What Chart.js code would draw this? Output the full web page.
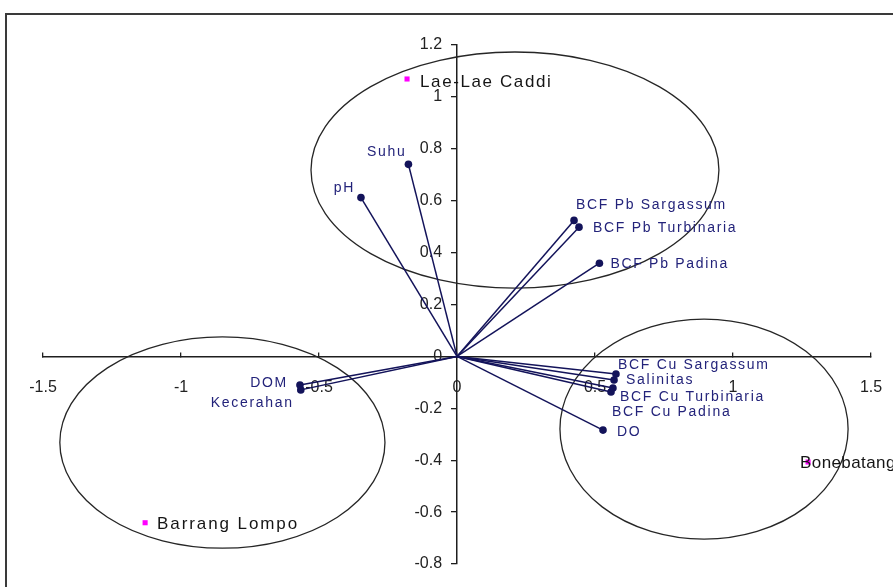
<!DOCTYPE html>
<html>
<head>
<meta charset="utf-8">
<script src="https://cdn.jsdelivr.net/npm/chart.js@4/dist/chart.umd.min.js"></script>
<style>
  html, body { margin: 0; padding: 0; background: #ffffff; }
  canvas { display: block; }
</style>
</head>
<body>
<canvas id="biplot" width="893" height="587"></canvas>
<script>
// Variable loadings (vectors from the origin)
const variableNames = ['Suhu', 'pH', 'BCF Pb Sargassum', 'BCF Pb Turbinaria', 'BCF Pb Padina',
  'BCF Cu Sargassum', 'Salinitas', 'BCF Cu Turbinaria', 'BCF Cu Padina', 'DO', 'DOM', 'Kecerahan'];
const variableX = [-0.176, -0.348, 0.424, 0.442, 0.516, 0.576, 0.569, 0.565, 0.558, 0.529, -0.569, -0.566];
const variableY = [0.740, 0.612, 0.524, 0.498, 0.359, -0.068, -0.091, -0.122, -0.137, -0.284, -0.110, -0.129];

// Station scores
const stationNames = ['Lae-Lae Caddi', 'Barrang Lompo', 'Bonebatang'];
const stationX = [-0.181, -1.130, 1.272];
const stationY = [1.069, -0.641, -0.407];

// Station groupings: centre and half-axes of each ellipse
const groupCentreX = [0.210, -0.850, 0.895];
const groupCentreY = [0.718, -0.332, -0.280];
const groupRadiusX = [0.739, 0.589, 0.522];
const groupRadiusY = [0.455, 0.407, 0.424];

// Axis ticks
const xTickValues = [-1.5, -1, -0.5, 0, 0.5, 1, 1.5];
const xTickLabels = ['-1.5', '-1', '-0.5', '0', '0.5', '1', '1.5'];
const yTickValues = [-0.8, -0.6, -0.4, -0.2, 0, 0.2, 0.4, 0.6, 0.8, 1, 1.2];
const yTickLabels = ['-0.8', '-0.6', '-0.4', '-0.2', '0', '0.2', '0.4', '0.6', '0.8', '1', '1.2'];

// Label placement around each marker (pixels) and alignment
const variableLabelOffset = [[-2, -12, 'right'], [-6, -9, 'right'], [2, -15, 'left'], [14, 1, 'left'],
  [11, 1, 'left'], [2, -9, 'left'], [12, 0, 'left'], [7, 9, 'left'], [1, 20, 'left'],
  [14, 2, 'left'], [-12, -2, 'right'], [-7, 13, 'right']];
// dx, dy, letter spacing
const stationLabelOffset = [[13, 3, 1.6], [12, 2, 1.9], [-8, 1, 0.4]];

const NAVY = '#13135a';
const LABEL_NAVY = '#23237a';
const AXIS = '#1e1e1e';
const TICK_FONT = { family: "'Liberation Sans Narrow', 'Liberation Sans', Arial, sans-serif", size: 16 };

const datasets = variableNames.map((name, i) => ({
  label: name,
  data: [{ x: 0, y: 0 }, { x: variableX[i], y: variableY[i] }],
  showLine: true,
  borderColor: NAVY,
  borderWidth: 1.5,
  pointRadius: [0, 3.8],
  pointBackgroundColor: NAVY,
  pointBorderWidth: 0,
  order: 2
}));
datasets.push({
  label: 'Stasiun',
  data: stationX.map((x, i) => ({ x, y: stationY[i] })),
  showLine: false,
  pointStyle: 'rect',
  pointRadius: 3.6,
  pointBackgroundColor: '#ff00ff',
  pointBorderWidth: 0,
  order: 1
});

const biplotDecor = {
  id: 'biplotDecor',
  beforeDraw(chart) {
    const ctx = chart.ctx;
    ctx.save();
    ctx.fillStyle = '#ffffff';
    ctx.fillRect(0, 0, chart.width, chart.height);
    // outer frame
    ctx.strokeStyle = '#3a3a3a';
    ctx.lineWidth = 2;
    ctx.beginPath();
    ctx.moveTo(chart.width + 5, 14);
    ctx.lineTo(6, 14);
    ctx.lineTo(6, chart.height + 5);
    ctx.stroke();
    ctx.restore();
  },
  beforeDatasetsDraw(chart) {
    const { ctx, scales: { x, y } } = chart;
    ctx.save();
    ctx.strokeStyle = '#262626';
    ctx.lineWidth = 1.3;
    groupCentreX.forEach((cx, i) => {
      const px = x.getPixelForValue(cx);
      const py = y.getPixelForValue(groupCentreY[i]);
      const rx = Math.abs(x.getPixelForValue(cx + groupRadiusX[i]) - px);
      const ry = Math.abs(y.getPixelForValue(groupCentreY[i] + groupRadiusY[i]) - py);
      ctx.beginPath();
      ctx.ellipse(px, py, rx, ry, 0, 0, Math.PI * 2);
      ctx.stroke();
    });
    ctx.restore();
  },
  afterDatasetsDraw(chart) {
    const { ctx, scales: { x, y } } = chart;
    ctx.save();
    ctx.textBaseline = 'middle';
    ctx.font = "14px 'Liberation Sans', Arial, sans-serif";
    ctx.letterSpacing = '1.7px';
    ctx.fillStyle = LABEL_NAVY;
    variableNames.forEach((name, i) => {
      const [dx, dy, align] = variableLabelOffset[i];
      ctx.textAlign = align;
      ctx.fillText(name, x.getPixelForValue(variableX[i]) + dx, y.getPixelForValue(variableY[i]) + dy);
    });
    ctx.font = "17px 'Liberation Sans', Arial, sans-serif";
    ctx.fillStyle = '#151515';
    ctx.textAlign = 'left';
    stationNames.forEach((name, i) => {
      const [dx, dy, spacing] = stationLabelOffset[i];
      ctx.letterSpacing = spacing + 'px';
      ctx.fillText(name, x.getPixelForValue(stationX[i]) + dx, y.getPixelForValue(stationY[i]) + dy);
    });
    ctx.restore();
  }
};

// Axis lines with tick marks cross at the origin; the tick numbers sit on
// companion axes placed a little below / left of them.
const axisLine = {
  grid: { drawOnChartArea: false, drawTicks: true, color: AXIS, lineWidth: 1.3 },
  border: { display: true, color: AXIS, width: 1.5 }
};
const labelOnly = {
  grid: { display: false, drawTicks: false },
  border: { display: false }
};

new Chart(document.getElementById('biplot'), {
  type: 'scatter',
  data: { datasets },
  plugins: [biplotDecor],
  options: {
    responsive: false,
    animation: false,
    devicePixelRatio: 1,
    layout: { padding: { left: 43, right: 22, top: 45, bottom: 23 } },
    plugins: { legend: { display: false }, tooltip: { enabled: false } },
    elements: { line: { tension: 0 } },
    scales: {
      x: {
        type: 'linear', min: -1.5, max: 1.5,
        position: { y: 0 },
        afterBuildTicks: (scale) => { scale.ticks = xTickValues.map(v => ({ value: v })); },
        ticks: { display: false },
        grid: { ...axisLine.grid, tickLength: -5 },
        border: axisLine.border
      },
      xLabels: {
        type: 'linear', axis: 'x', min: -1.5, max: 1.5,
        position: { y: -0.082 },
        afterBuildTicks: (scale) => { scale.ticks = xTickValues.map(v => ({ value: v })); },
        ticks: {
          font: TICK_FONT, color: '#222222', padding: 0, autoSkip: false, maxRotation: 0,
          callback: (v) => xTickLabels[xTickValues.indexOf(v)]
        },
        ...labelOnly
      },
      y: {
        type: 'linear', min: -0.8, max: 1.2,
        position: { x: 0 },
        afterBuildTicks: (scale) => { scale.ticks = yTickValues.map(v => ({ value: v })); },
        ticks: { display: false },
        grid: { ...axisLine.grid, tickLength: 5 },
        border: axisLine.border
      },
      yLabels: {
        type: 'linear', axis: 'y', min: -0.8, max: 1.2,
        position: { x: -0.054 },
        afterBuildTicks: (scale) => { scale.ticks = yTickValues.map(v => ({ value: v })); },
        ticks: {
          font: TICK_FONT, color: '#222222', padding: 0, autoSkip: false,
          callback: (v) => yTickLabels[yTickValues.findIndex(t => Math.abs(t - v) < 1e-9)]
        },
        ...labelOnly
      }
    }
  }
});
</script>
</body>
</html>
